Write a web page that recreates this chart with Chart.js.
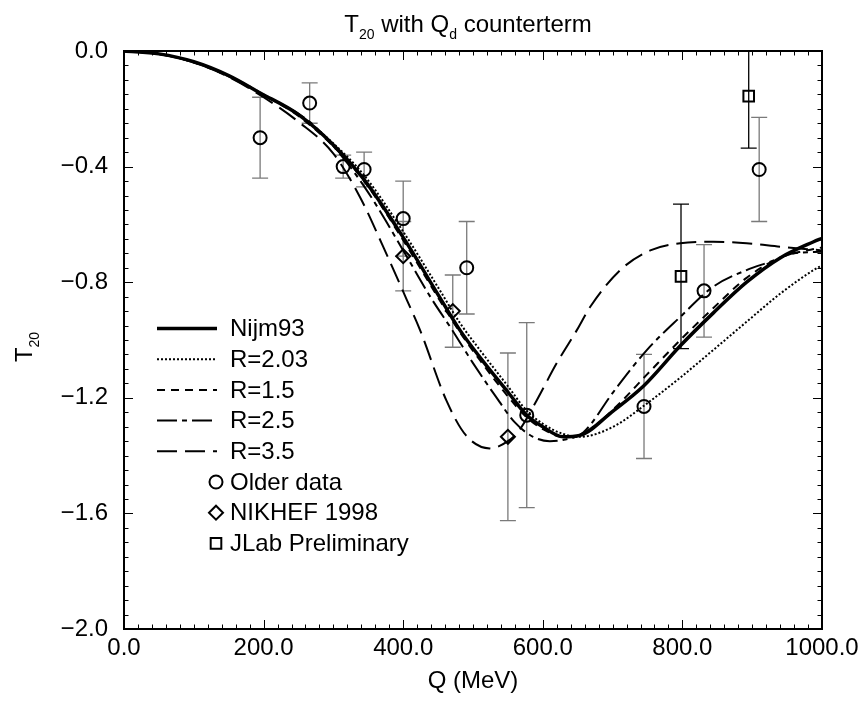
<!DOCTYPE html>
<html><head><meta charset="utf-8">
<script src="https://cdn.jsdelivr.net/npm/chart.js@4.4.1/dist/chart.umd.min.js"></script>
<style>html,body{margin:0;padding:0;background:#fff}canvas{display:block}</style>
</head><body>
<canvas id="c" width="866" height="704"></canvas>
<script>
// ---------------- data ----------------
const qNijm93 = [0, 50, 100, 150, 195, 250, 300, 344, 400, 453, 481, 510, 550, 577, 600, 629, 653, 701, 744, 797, 844, 892, 940, 988, 1000];
const tNijm93 = [0, -0.01, -0.037, -0.085, -0.145, -0.22, -0.325, -0.445, -0.645, -0.855, -0.965, -1.06, -1.18, -1.26, -1.30, -1.335, -1.33, -1.245, -1.16, -1.02, -0.907, -0.80, -0.716, -0.66, -0.648];

const qR203 = [0, 50, 100, 150, 200, 250, 300, 344, 400, 453, 481, 510, 550, 577, 600, 629, 653, 701, 749, 797, 844, 892, 940, 988, 1000];
const tR203 = [0, -0.01, -0.037, -0.085, -0.15, -0.22, -0.32, -0.43, -0.625, -0.83, -0.94, -1.035, -1.16, -1.245, -1.29, -1.325, -1.335, -1.30, -1.22, -1.13, -1.035, -0.937, -0.84, -0.758, -0.742];

const qR15 = [0, 50, 100, 150, 200, 250, 300, 344, 400, 453, 481, 510, 550, 577, 600, 629, 653, 701, 749, 797, 844, 892, 940, 988, 1000];
const tR15 = [0, -0.01, -0.038, -0.087, -0.152, -0.225, -0.33, -0.45, -0.655, -0.865, -0.972, -1.07, -1.195, -1.268, -1.308, -1.335, -1.33, -1.24, -1.12, -1.0, -0.89, -0.785, -0.715, -0.685, -0.68];

const qR25 = [0, 50, 100, 150, 200, 266, 314, 350, 400, 440, 470, 500, 531, 560, 586, 610, 630, 658, 701, 749, 797, 844, 892, 925, 960, 1000];
const tR25 = [0, -0.01, -0.04, -0.088, -0.153, -0.245, -0.37, -0.49, -0.69, -0.855, -0.965, -1.08, -1.19, -1.285, -1.335, -1.35, -1.345, -1.32, -1.18, -1.035, -0.92, -0.816, -0.758, -0.73, -0.70, -0.695];

const qR35 = [0, 50, 100, 150, 200, 250, 300, 338, 370, 405, 424, 462, 490, 524, 550, 567, 591, 620, 649, 668, 711, 754, 797, 844, 892, 940, 1000];
const tR35 = [0, -0.01, -0.04, -0.09, -0.16, -0.245, -0.355, -0.505, -0.67, -0.86, -0.965, -1.21, -1.33, -1.375, -1.35, -1.31, -1.21, -1.08, -0.965, -0.885, -0.758, -0.69, -0.665, -0.66, -0.665, -0.677, -0.69];

const olderQ   = [195, 266, 314, 344, 400, 491, 577, 745, 831, 910];
const olderT   = [-0.30, -0.18, -0.40, -0.41, -0.58, -0.75, -1.26, -1.23, -0.83, -0.41];
const olderErr = [0.14, 0.07, 0.04, 0.06, 0.13, 0.16, 0.32, 0.18, 0.16, 0.18];

const nikhefQ   = [400, 471, 550];
const nikhefT   = [-0.71, -0.90, -1.335];
const nikhefErr = [0.12, 0.125, 0.29];

const jlabQ   = [798, 895];
const jlabT   = [-0.78, -0.156];
const jlabErr = [0.25, 0.18];

const xMajorTicks = [0, 200, 400, 600, 800, 1000];
const xTickLabels = ['0.0', '200.0', '400.0', '600.0', '800.0', '1000.0'];
const yMajorTicks = [0, -0.4, -0.8, -1.2, -1.6, -2.0];
const yTickLabels = ['0.0', '\u22120.4', '\u22120.8', '\u22121.2', '\u22121.6', '\u22122.0'];

// ---------------- chart ----------------
const FONT = "'Liberation Sans', Arial, Helvetica, sans-serif";
function pts(qs, ts) { return qs.map((q, i) => ({ x: q, y: ts[i] })); }
function findIdx(arr, v) { return arr.findIndex(m => Math.abs(m - v) < 1e-6); }

const curve = { showLine: true, pointRadius: 0, pointHoverRadius: 0, fill: false,
  borderColor: '#000', backgroundColor: '#000', cubicInterpolationMode: 'monotone', order: 1 };
const marker = { showLine: false, borderColor: '#000', backgroundColor: 'rgba(0,0,0,0)',
  borderWidth: 2, order: -1 };

const datasets = [
  { ...curve, label: 'Nijm93', data: pts(qNijm93, tNijm93), borderWidth: 3.5, borderDash: [] },
  { ...curve, label: 'R=2.03', data: pts(qR203, tR203), borderWidth: 2, borderDash: [2, 2] },
  { ...curve, label: 'R=1.5', data: pts(qR15, tR15), borderWidth: 2, borderDash: [8, 6] },
  { ...curve, label: 'R=2.5', data: pts(qR25, tR25), borderWidth: 2, borderDash: [20, 5, 5, 5] },
  { ...curve, label: 'R=3.5', data: pts(qR35, tR35), borderWidth: 2, borderDash: [20, 8] },
  { ...marker, label: 'Older data', data: pts(olderQ, olderT), pointStyle: 'circle', pointRadius: 6.5,
    errors: olderErr, errColor: '#7a7a7a' },
  { ...marker, label: 'NIKHEF 1998', data: pts(nikhefQ, nikhefT), pointStyle: 'rectRot', pointRadius: 7,
    errors: nikhefErr, errColor: '#7a7a7a' },
  { ...marker, label: 'JLab Preliminary', data: pts(jlabQ, jlabT), pointStyle: 'rect', pointRadius: 7.5,
    errors: jlabErr, errColor: '#000' }
];

function drawRich(ctx, parts, x, y, align, size, subSize, subShift) {
  let w = 0;
  parts.forEach(p => { ctx.font = (p.sub ? subSize : size) + 'px ' + FONT; p.w = ctx.measureText(p.t).width; w += p.w; });
  let cx = align === 'center' ? x - w / 2 : x;
  ctx.textAlign = 'left'; ctx.textBaseline = 'alphabetic';
  parts.forEach(p => {
    ctx.font = (p.sub ? subSize : size) + 'px ' + FONT;
    ctx.fillText(p.t, cx, p.sub ? y + subShift : y);
    cx += p.w;
  });
}

const errorBars = {
  id: 'errorBars',
  beforeDatasetsDraw(chart) {
    const { ctx, chartArea: a, scales: { x, y } } = chart;
    ctx.save();
    ctx.beginPath(); ctx.rect(a.left, a.top, a.right - a.left, a.bottom - a.top); ctx.clip();
    chart.data.datasets.forEach(ds => {
      if (!ds.errors) return;
      ctx.strokeStyle = ds.errColor; ctx.lineWidth = 1.3;
      ds.data.forEach((p, i) => {
        const px = x.getPixelForValue(p.x);
        const y1 = y.getPixelForValue(p.y + ds.errors[i]);
        const y2 = y.getPixelForValue(p.y - ds.errors[i]);
        ctx.beginPath();
        ctx.moveTo(px, y1); ctx.lineTo(px, y2);
        ctx.moveTo(px - 8, y1); ctx.lineTo(px + 8, y1);
        ctx.moveTo(px - 8, y2); ctx.lineTo(px + 8, y2);
        ctx.stroke();
      });
    });
    ctx.restore();
  }
};

const frameAndText = {
  id: 'frameAndText',
  afterDraw(chart) {
    const { ctx, chartArea: a, scales: { x, y } } = chart;
    ctx.save();
    // ticks on all four sides, pointing inward
    ctx.strokeStyle = '#000'; ctx.lineWidth = 1;
    ctx.beginPath();
    x.ticks.forEach(t => {
      const px = Math.round(x.getPixelForValue(t.value)) + 0.5;
      const len = findIdx(xMajorTicks, t.value) >= 0 ? 9 : 4.5;
      ctx.moveTo(px, a.bottom); ctx.lineTo(px, a.bottom - len);
      ctx.moveTo(px, a.top); ctx.lineTo(px, a.top + len);
    });
    y.ticks.forEach(t => {
      const py = Math.round(y.getPixelForValue(t.value)) + 0.5;
      const len = findIdx(yMajorTicks, t.value) >= 0 ? 9 : 4.5;
      ctx.moveTo(a.left, py); ctx.lineTo(a.left + len, py);
      ctx.moveTo(a.right, py); ctx.lineTo(a.right - len, py);
    });
    ctx.stroke();
    // frame
    ctx.lineWidth = 2;
    ctx.strokeRect(a.left, a.top, a.right - a.left, a.bottom - a.top);

    // titles
    ctx.fillStyle = '#000';
    const cx = (a.left + a.right) / 2;
    drawRich(ctx, [{ t: 'T' }, { t: '20', sub: true }, { t: ' with Q' }, { t: 'd', sub: true }, { t: ' counterterm' }],
      cx - 5, 32, 'center', 24, 14, 7);
    ctx.font = '24px ' + FONT; ctx.textAlign = 'center'; ctx.textBaseline = 'alphabetic';
    ctx.fillText('Q (MeV)', cx, 688);
    ctx.save();
    ctx.translate(32, (a.top + a.bottom) / 2 + 7);
    ctx.rotate(-Math.PI / 2);
    drawRich(ctx, [{ t: 'T' }, { t: '20', sub: true }], 0, 0, 'center', 24, 14, 7);
    ctx.restore();

    // legend
    const lx0 = a.left + 33, lx1 = a.left + 93, mx = a.left + 92, tx = a.left + 106;
    const ly0 = a.top + 277.5, dy = 30.7;
    chart.data.datasets.forEach((ds, i) => {
      const ly = ly0 + i * dy;
      if (ds.showLine) {
        ctx.save();
        ctx.strokeStyle = '#000'; ctx.lineWidth = ds.borderWidth; ctx.setLineDash(ds.borderDash || []);
        ctx.beginPath(); ctx.moveTo(lx0, ly); ctx.lineTo(lx1, ly); ctx.stroke();
        ctx.restore();
      } else {
        ctx.save();
        ctx.strokeStyle = '#000'; ctx.fillStyle = 'rgba(0,0,0,0)'; ctx.lineWidth = 2;
        Chart.helpers.drawPoint(ctx, { pointStyle: ds.pointStyle, radius: ds.pointRadius, rotation: 0, borderWidth: 2 }, mx, ly);
        ctx.restore();
      }
      ctx.fillStyle = '#000'; ctx.font = '24px ' + FONT; ctx.textAlign = 'left'; ctx.textBaseline = 'middle';
      ctx.fillText(ds.label, tx, ly + 1);
    });
    ctx.restore();
  }
};

new Chart(document.getElementById('c'), {
  type: 'scatter',
  data: { datasets },
  options: {
    responsive: false, animation: false, devicePixelRatio: 1,
    layout: { padding: { left: 0, right: 44, top: 51, bottom: 0 } },
    plugins: { legend: { display: false }, title: { display: false }, tooltip: { enabled: false } },
    scales: {
      x: {
        type: 'linear', min: 0, max: 1000,
        afterFit: s => { s.height = 75; },
        grid: { display: false, drawTicks: false },
        border: { display: false },
        ticks: {
          stepSize: 20, autoSkip: false, maxRotation: 0, minRotation: 0, padding: 5, color: '#000',
          font: { family: FONT, size: 24 },
          callback: v => { const k = findIdx(xMajorTicks, v); return k >= 0 ? xTickLabels[k] : ''; }
        }
      },
      y: {
        type: 'linear', min: -2, max: 0,
        afterFit: s => { s.width = 124; },
        grid: { display: false, drawTicks: false },
        border: { display: false },
        ticks: {
          stepSize: 0.05, autoSkip: false, padding: 16, color: '#000',
          font: { family: FONT, size: 24 },
          callback: v => { const k = findIdx(yMajorTicks, v); return k >= 0 ? yTickLabels[k] : ''; }
        }
      }
    }
  },
  plugins: [errorBars, frameAndText]
});
</script>
</body></html>
